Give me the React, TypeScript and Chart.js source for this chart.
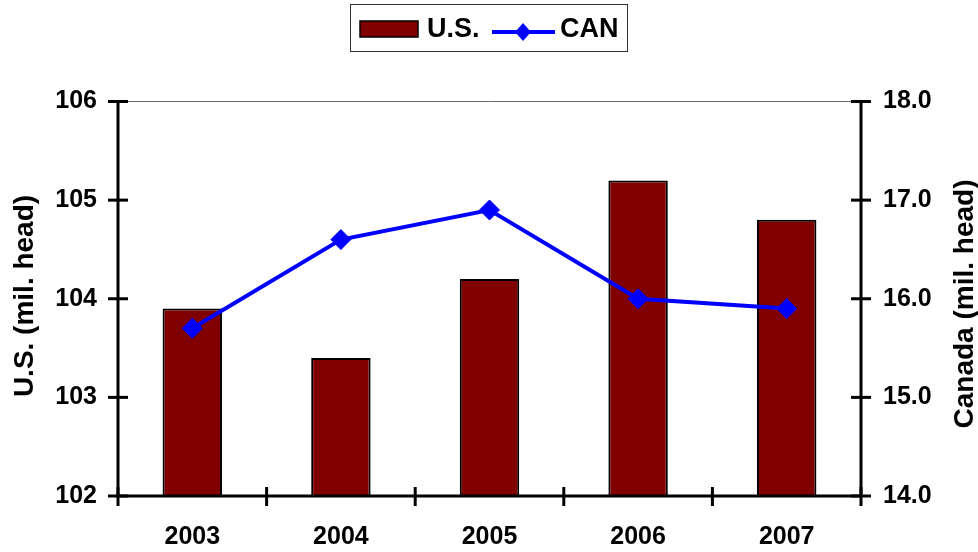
import React, { useEffect, useRef } from 'react';
import { Chart, registerables } from 'chart.js';

Chart.register(...registerables);

const categories = ['2003', '2004', '2005', '2006', '2007'];
const usValues = [103.9, 103.4, 104.2, 105.2, 104.8];
const canValues = [15.7, 16.6, 16.9, 16.0, 15.9];
const usLabel = 'U.S.';
const canLabel = 'CAN';
const usAxisTitle = 'U.S. (mil. head)';
const canAxisTitle = 'Canada (mil. head)';

const FONT = '"Liberation Sans", Arial, Helvetica, sans-serif';
const BAR_COLOR = '#800000';
const LINE_COLOR = '#0000FF';

const framePlugin = {
  id: 'frame',
  afterDatasetsDraw(chart: any) {
    const { ctx, chartArea: a, scales } = chart;
    ctx.save();
    // thin top border
    ctx.strokeStyle = '#6a6a6a';
    ctx.lineWidth = 1;
    ctx.beginPath();
    ctx.moveTo(a.left, a.top);
    ctx.lineTo(a.right, a.top);
    ctx.stroke();

    // axes
    ctx.strokeStyle = '#000';
    ctx.lineWidth = 3;
    ctx.lineCap = 'butt';
    ctx.beginPath();
    ctx.moveTo(a.left, a.top);
    ctx.lineTo(a.left, a.bottom + 1.5);
    ctx.moveTo(a.right, a.top);
    ctx.lineTo(a.right, a.bottom + 1.5);
    ctx.moveTo(a.left, a.bottom);
    ctx.lineTo(a.right, a.bottom);
    ctx.stroke();

    // y ticks crossing the axes
    const ys = [scales.y, scales.y1];
    ys.forEach((s: any) => {
      const x = s.id === 'y' ? a.left : a.right;
      s.ticks.forEach((_t: any, i: number) => {
        const py = s.getPixelForTick(i);
        ctx.beginPath();
        ctx.moveTo(x - 10, py);
        ctx.lineTo(x + 10, py);
        ctx.stroke();
      });
    });

    // x ticks at category boundaries
    const xs = scales.x;
    const n = xs.ticks.length;
    for (let i = 0; i <= n; i++) {
      const px = xs.getPixelForValue(i - 0.5);
      ctx.beginPath();
      ctx.moveTo(px, a.bottom - 9);
      ctx.lineTo(px, a.bottom + 10);
      ctx.stroke();
    }

    // axis titles (both read bottom to top)
    ctx.fillStyle = '#000';
    ctx.font = `bold 28px ${FONT}`;
    ctx.textAlign = 'center';
    ctx.textBaseline = 'alphabetic';
    ctx.save();
    ctx.translate(33, 296);
    ctx.rotate(-Math.PI / 2);
    ctx.fillText(usAxisTitle, 0, 0);
    ctx.restore();
    ctx.save();
    ctx.translate(973, 304);
    ctx.rotate(-Math.PI / 2);
    ctx.fillText(canAxisTitle, 0, 0);
    ctx.restore();
    ctx.restore();
  },
  afterDraw(chart: any) {
    const { ctx } = chart;
    const ds = chart.data.datasets;
    const bar = ds[0];
    const line = ds[1];
    ctx.save();
    // legend frame
    ctx.strokeStyle = '#333';
    ctx.lineWidth = 1;
    ctx.strokeRect(350.5, 4.5, 277, 47);
    // bar swatch
    ctx.fillStyle = bar.backgroundColor;
    ctx.fillRect(360, 21, 58, 16);
    ctx.strokeStyle = '#000';
    ctx.lineWidth = 1.5;
    ctx.strokeRect(360, 21, 58, 16);
    // line swatch
    ctx.strokeStyle = line.borderColor;
    ctx.lineWidth = 4;
    ctx.beginPath();
    ctx.moveTo(492, 32);
    ctx.lineTo(555, 32);
    ctx.stroke();
    ctx.fillStyle = line.pointBackgroundColor;
    ctx.beginPath();
    ctx.moveTo(523 - 8, 32);
    ctx.lineTo(523, 32 - 9);
    ctx.lineTo(523 + 8, 32);
    ctx.lineTo(523, 32 + 9);
    ctx.closePath();
    ctx.fill();
    // labels
    ctx.fillStyle = '#000';
    ctx.font = `bold 27px ${FONT}`;
    ctx.textAlign = 'left';
    ctx.textBaseline = 'alphabetic';
    ctx.fillText(bar.label, 427, 37);
    ctx.fillText(line.label, 560, 37);
    ctx.restore();
  },
};

export default function App() {
  const ref = useRef<HTMLCanvasElement | null>(null);

  useEffect(() => {
    document.body.style.margin = '0';
    document.body.style.overflow = 'hidden';
    const canvas = ref.current;
    if (!canvas) return;
    const tickFont = { family: FONT, size: 25, weight: 'bold' as const };
    const chart = new Chart(canvas, {
      type: 'bar',
      data: {
        labels: categories,
        datasets: [
          {
            type: 'bar',
            label: usLabel,
            data: usValues,
            backgroundColor: BAR_COLOR,
            borderColor: '#000',
            borderWidth: 2,
            barPercentage: 0.4,
            categoryPercentage: 1,
            yAxisID: 'y',
            order: 1,
          } as any,
          {
            type: 'line',
            label: canLabel,
            data: canValues,
            borderColor: LINE_COLOR,
            backgroundColor: LINE_COLOR,
            borderWidth: 4,
            pointStyle: 'rectRot',
            pointRadius: 10,
            pointBackgroundColor: LINE_COLOR,
            pointBorderColor: LINE_COLOR,
            pointBorderWidth: 1,
            tension: 0,
            fill: false,
            yAxisID: 'y1',
            order: 0,
          } as any,
        ],
      },
      options: {
        responsive: false,
        animation: false,
        layout: { padding: { top: 101.5, left: 0, right: 0, bottom: 0 } },
        plugins: {
          legend: { display: false },
          tooltip: { enabled: false },
        },
        scales: {
          x: {
            grid: { display: false, drawTicks: false },
            border: { display: false },
            ticks: { font: tickFont, color: '#000', padding: 26, maxRotation: 0 },
            afterFit: (s: any) => {
              s.height = 56;
            },
          },
          y: {
            position: 'left',
            min: 102,
            max: 106,
            grid: { display: false, drawTicks: false },
            border: { display: false },
            ticks: { stepSize: 1, font: tickFont, color: '#000', padding: 21 },
            afterFit: (s: any) => {
              s.width = 118;
            },
          },
          y1: {
            position: 'right',
            min: 14,
            max: 18,
            grid: { display: false, drawTicks: false },
            border: { display: false },
            ticks: {
              stepSize: 1,
              font: tickFont,
              color: '#000',
              padding: 22,
              callback: (v: any) => Number(v).toFixed(1),
            },
            afterFit: (s: any) => {
              s.width = 117;
            },
          },
        },
      } as any,
      plugins: [framePlugin],
    });
    return () => chart.destroy();
  }, []);

  return (
    <div style={{ width: 978, height: 552 }}>
      <canvas ref={ref} width={978} height={552} />
    </div>
  );
}
